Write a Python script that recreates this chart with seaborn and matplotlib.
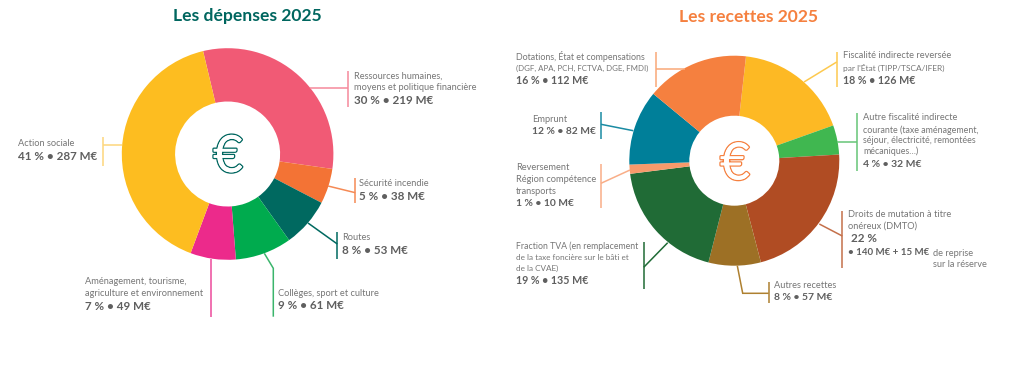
from matplotlib import pyplot as plt
from matplotlib import patheffects as pe
import seaborn as sns

# depenses, clockwise from the top left
dep_names = ['Ressources humaines', 'Sécurité incendie', 'Routes', 'Collèges', 'Aménagement', 'Action sociale']
dep_values = [219, 38, 53, 61, 49, 287]
dep_pct = [30, 5, 8, 9, 7, 41]
dep_colors = ['#f15a75', '#f37335', '#006960', '#00ab4e', '#ec2a8b', '#fdbd20']
dep_lines = ['#f5899b', '#f58a55', '#006960', '#3bb56c', '#ec4a9b', '#fdd67c']

# recettes, clockwise from the top
rec_names = ['Fiscalité reversée', 'Autre fiscalité', 'DMTO', 'Autres recettes', 'Fraction TVA', 'Reversement', 'Emprunt', 'Dotations']
rec_values = [126, 32, 155, 57, 135, 10, 82, 112]
rec_pct = [18, 4, 22, 8, 19, 1, 12, 16]
rec_colors = ['#fdb924', '#40b750', '#b04c23', '#9d7025', '#206b36', '#f79a6b', '#007f99', '#f5803f']
rec_lines = ['#fdc94f', '#66c576', '#c4704a', '#ae8030', '#206b36', '#f9ae88', '#1a8ba3', '#f9a878']

W, H = 1020, 377
TEAL = '#00665f'
ORANGE = '#f5803f'
GREY = '#767676'
DARK = '#5f5f5f'

sns.set_theme(style='white')
plt.rcParams['font.family'] = ['Lato', 'DejaVu Sans']

fig = plt.figure(figsize=(W / 100, H / 100), dpi=100)


def donut(values, colors, cx, cy, r, inner, start):
    ax = fig.add_axes([(cx - r) / W, 1 - (cy + r) / H, 2 * r / W, 2 * r / H])
    ax.pie(values, colors=colors, radius=1, startangle=90 - start, counterclock=False,
           wedgeprops=dict(width=1 - inner / r, linewidth=0))
    ax.set_xlim(-1, 1)
    ax.set_ylim(-1, 1)


donut(dep_values, dep_colors, 227.6, 154, 105.8, 52.5, -13.4)
donut(rec_values, rec_colors, 734.3, 160.7, 105, 45, 6.4)

# overlay in pixels for text and leader lines
ov = fig.add_axes([0, 0, 1, 1])
ov.set_xlim(0, W)
ov.set_ylim(H, 0)
ov.axis('off')
ov.patch.set_alpha(0)


def small(x, y, s, size=6.65):
    ov.text(x, y, s, fontsize=size, color=GREY, va='center', ha='left')


def big(x, y, s, size=8.4):
    ov.text(x, y, s, fontsize=size, color=DARK, va='center', ha='left', fontweight='bold')


def leader(xs, ys, c):
    ov.plot(xs, ys, color=c, lw=1.1, solid_capstyle='butt', solid_joinstyle='miter')


def fig_label(pct, val):
    return f'{pct} % • {val} M€'


ov.text(247, 16.5, 'Les dépenses 2025', fontsize=12.6, color=TEAL, fontweight='bold', ha='center', va='center')
ov.text(748.7, 16.5, 'Les recettes 2025', fontsize=12.6, color=ORANGE, fontweight='bold', ha='center', va='center')

for x, y, c in [(228, 158, TEAL), (735, 165.5, ORANGE)]:
    ov.text(x, y, '€', fontsize=37, color='white', ha='center', va='center', fontweight='normal',
            path_effects=[pe.withStroke(linewidth=2.0, foreground=c), pe.Normal()])

# left side
leader([310, 347.7], [88.3, 88.3], dep_lines[0])
leader([347.7, 347.7], [71, 107.3], dep_lines[0])
small(354.5, 76.5, 'Ressources humaines,')
small(354.5, 87.5, 'moyens et politique financière')
big(354.5, 100, fig_label(dep_pct[0], dep_values[0]))

leader([328, 355.3], [186, 192.7], dep_lines[1])
leader([355.3, 355.3], [178, 203], dep_lines[1])
small(359.3, 184, 'Sécurité incendie')
big(359.3, 196.7, fig_label(dep_pct[1], dep_values[1]))

leader([308, 337.3], [223, 244], dep_lines[2])
leader([337.3, 337.3], [231.7, 259], dep_lines[2])
small(341.7, 237.7, 'Routes')
big(341.7, 250.7, fig_label(dep_pct[2], dep_values[2]))

leader([264.3, 273.3, 273.3], [253.3, 268.3, 316.7], dep_lines[3])
small(277.7, 293.3, 'Collèges, sport et culture')
big(277.7, 305.7, fig_label(dep_pct[3], dep_values[3]))

leader([211, 211], [259, 316.7], dep_lines[4])
small(84.7, 281.7, 'Aménagement, tourisme,')
small(84.7, 293.3, 'agriculture et environnement')
big(84.7, 306, fig_label(dep_pct[4], dep_values[4]))

leader([103, 122], [145, 145], dep_lines[5])
leader([103, 103], [137, 166], dep_lines[5])
small(18, 143, 'Action sociale')
big(18, 156, fig_label(dep_pct[5], dep_values[5]))

# right side
leader([804, 836.7], [82, 62], rec_lines[0])
leader([836.7, 836.7], [52.3, 87.3], rec_lines[0])
small(843, 55.7, 'Fiscalité indirecte reversée')
small(843, 67.7, "par l'État (TIPP/TSCA/IFER)", 6.0)
big(843, 80.3, fig_label(rec_pct[0], rec_values[0]), 7.7)

leader([837.3, 857.3], [141.7, 141.7], rec_lines[1])
leader([857.3, 857.3], [113.3, 170.7], rec_lines[1])
small(863.3, 118, 'Autre fiscalité indirecte')
small(863.3, 130, 'courante (taxe aménagement,', 6.4)
small(863.3, 140.7, 'séjour, électricité, remontées', 6.4)
small(863.3, 151.7, 'mécaniques…)', 6.4)
big(863.3, 164.3, fig_label(rec_pct[1], rec_values[1]), 7.5)

leader([819.3, 842.3], [224, 236], rec_lines[2])
leader([842.3, 842.3], [210.7, 268], rec_lines[2])
small(848.3, 214.3, 'Droits de mutation à titre')
small(848.3, 226, 'onéreux (DMTO)')
big(851, 238.3, f'{rec_pct[2]} %')
big(848.3, 252.3, '• 140 M€ + 15 M€', 7)
small(932.7, 253, 'de reprise')
small(932.7, 264.7, 'sur la réserve')

leader([737.3, 742.7, 768.7], [265.7, 293.3, 293.3], rec_lines[3])
leader([768.7, 768.7], [281.7, 302.7], rec_lines[3])
small(774.3, 285, 'Autres recettes')
big(774.3, 297.3, fig_label(rec_pct[3], rec_values[3]), 7.5)

leader([667.7, 643.7], [242.7, 267.3], rec_lines[4])
leader([643.7, 643.7], [242.3, 289], rec_lines[4])
small(516.3, 246.7, 'Fraction TVA (en remplacement', 6.3)
small(516.3, 257.3, 'de la taxe foncière sur le bâti et', 5.9)
small(516.3, 268, 'de la CVAE)', 5.9)
big(516.3, 281, fig_label(rec_pct[4], rec_values[4]), 7.7)

leader([630, 601], [170, 183.3], rec_lines[5])
leader([601, 601], [164, 208], rec_lines[5])
small(516.3, 168, 'Reversement')
small(516.3, 180, 'Région compétence')
small(516.3, 191.7, 'transports', 6.6)
big(516.3, 203.3, fig_label(rec_pct[5], rec_values[5]), 7.4)

leader([601, 633.3], [124.3, 130.7], rec_lines[6])
leader([601, 601], [111.7, 139], rec_lines[6])
small(532.3, 119, 'Emprunt')
big(532.3, 131.7, fig_label(rec_pct[6], rec_values[6]), 7.4)

leader([656, 685], [69, 69], rec_lines[7])
leader([656, 656], [52.3, 87.3], rec_lines[7])
small(516.3, 57, 'Dotations, État et compensations', 6.4)
small(516.3, 68, '(DGF, APA, PCH, FCTVA, DGE, FMDI)', 5.7)
big(516.3, 80.7, fig_label(rec_pct[7], rec_values[7]), 7.7)

fig.savefig('out.png', dpi=100)
